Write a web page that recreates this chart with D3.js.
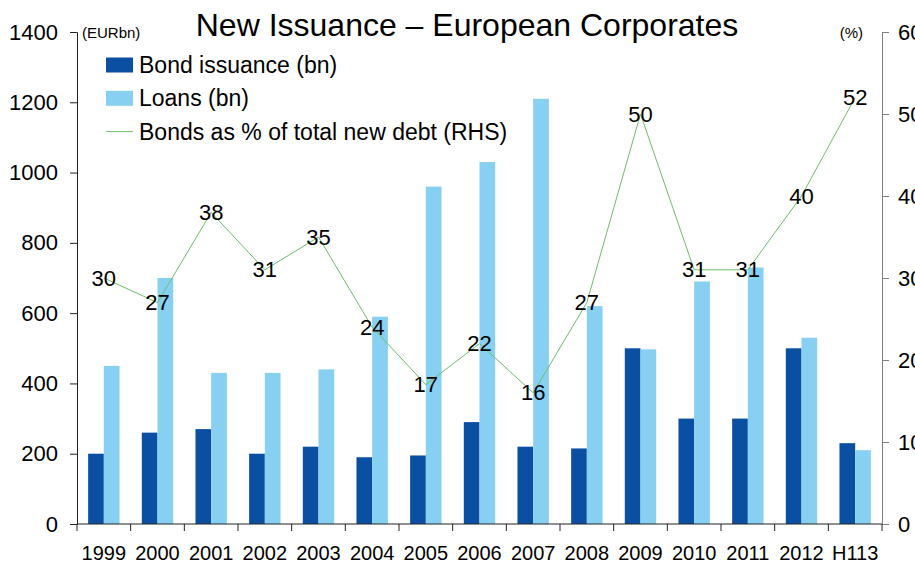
<!DOCTYPE html>
<html>
<head>
<meta charset="utf-8">
<script src="https://cdn.jsdelivr.net/npm/d3@7"></script>
<style>
  body { margin: 0; background: #fff; }
  svg { font-family: "Liberation Sans", Arial, sans-serif; }
</style>
</head>
<body>
<div id="plot"></div>
<script>
const width = 915
const height = 565
const margin = {top: 32, right: 33, bottom: 41, left: 77}

// data
const categories = ['1999', '2000', '2001', '2002', '2003', '2004', '2005', '2006', '2007', '2008', '2009', '2010', '2011', '2012', 'H113']
const bonds = [200, 260, 270, 200, 220, 190, 195, 290, 220, 215, 500, 300, 300, 500, 230]
const loans = [450, 700, 430, 430, 440, 590, 960, 1030, 1210, 620, 497, 690, 730, 530, 210]
const bondShare = [30, 27, 38, 31, 35, 24, 17, 22, 16, 27, 50, 31, 31, 40, 52]
const leftTicks = [0, 200, 400, 600, 800, 1000, 1200, 1400]
const rightTicks = [0, 10, 20, 30, 40, 50, 60]

const seriesNames = ['Bond issuance (bn)', 'Loans (bn)', 'Bonds as % of total new debt (RHS)']
const colors = {bond: '#0b4fa3', loan: '#88d0f2', line: '#6cbf6c'}

const svg = d3.select('div#plot').append('svg')
    .attr('width', width)
    .attr('height', height)
    .attr('viewBox', [0, 0, width, height])

const x = d3.scaleBand()
    .domain(categories)
    .range([margin.left, width - margin.right])
    .paddingInner(0.415)
    .paddingOuter(0.2075)

const xSub = d3.scaleBand()
    .domain(['bond', 'loan'])
    .range([0, x.bandwidth()])

const xEdge = d3.scaleLinear()
    .domain([0, categories.length])
    .range([margin.left, width - margin.right])

const y = d3.scaleLinear()
    .domain([0, 1400])
    .range([height - margin.bottom, margin.top])

const yR = d3.scaleLinear()
    .domain([0, 60])
    .range([height - margin.bottom, margin.top])

// bars
const groups = svg.append('g')
    .selectAll('g')
    .data(categories)
    .enter()
    .append('g')
    .attr('transform', c => 'translate(' + x(c) + ',0)')

groups.append('rect')
    .attr('x', xSub('bond'))
    .attr('width', xSub.bandwidth())
    .attr('y', (c, i) => y(bonds[i]))
    .attr('height', (c, i) => y(0) - y(bonds[i]))
    .attr('fill', colors.bond)

groups.append('rect')
    .attr('x', xSub('loan'))
    .attr('width', xSub.bandwidth())
    .attr('y', (c, i) => y(loans[i]))
    .attr('height', (c, i) => y(0) - y(loans[i]))
    .attr('fill', colors.loan)

// left axis
svg.append('g')
    .attr('transform', 'translate(' + margin.left + ',0)')
    .call(d3.axisLeft(y).tickValues(leftTicks).tickFormat(d3.format('d')).tickSize(7).tickPadding(12))
    .call(g => g.select('.domain').attr('stroke', '#222'))
    .call(g => g.selectAll('.tick line').attr('stroke', '#222'))
    .call(g => g.selectAll('.tick text').attr('font-size', 22).attr('fill', '#000'))
    .attr('font-family', null)

// right axis
svg.append('g')
    .attr('transform', 'translate(' + (width - margin.right) + ',0)')
    .call(d3.axisRight(yR).tickValues(rightTicks).tickSize(7).tickPadding(9))
    .call(g => g.select('.domain').attr('stroke', '#808080'))
    .call(g => g.selectAll('.tick line').attr('stroke', '#808080'))
    .call(g => g.selectAll('.tick text').attr('font-size', 22).attr('fill', '#000'))
    .attr('font-family', null)

// x axis
const xAxis = svg.append('g')
    .attr('transform', 'translate(0,' + (height - margin.bottom) + ')')
xAxis.call(d3.axisBottom(x).tickSize(0).tickPadding(22))
    .call(g => g.select('.domain').remove())
    .call(g => g.selectAll('.tick text').attr('font-size', 20).attr('fill', '#000'))
    .attr('font-family', null)
xAxis.append('line')
    .attr('x1', xEdge(0)).attr('x2', xEdge(categories.length))
    .attr('stroke', '#222')
xAxis.selectAll('line.edge')
    .data(d3.range(categories.length + 1))
    .enter()
    .append('line')
    .attr('class', 'edge')
    .attr('x1', i => xEdge(i)).attr('x2', i => xEdge(i))
    .attr('y1', 0).attr('y2', 7)
    .attr('stroke', '#222')

// share line
const cx = c => x(c) + x.bandwidth() / 2
const line = d3.line()
    .x((v, i) => cx(categories[i]))
    .y(v => yR(v))

svg.append('path')
    .datum(bondShare)
    .attr('d', line)
    .attr('fill', 'none')
    .attr('stroke', colors.line)
    .attr('stroke-width', 1)

svg.append('g')
    .selectAll('text')
    .data(bondShare)
    .enter()
    .append('text')
    .attr('x', (v, i) => cx(categories[i]))
    .attr('y', v => yR(v))
    .attr('text-anchor', 'middle')
    .attr('dominant-baseline', 'central')
    .attr('font-size', 22)
    .text(v => v)

// unit labels
svg.append('text')
    .attr('x', margin.left + 5)
    .attr('y', margin.top)
    .attr('dominant-baseline', 'central')
    .attr('font-size', 15)
    .text('(EURbn)')

svg.append('text')
    .attr('x', width - margin.right - 19)
    .attr('y', margin.top)
    .attr('text-anchor', 'end')
    .attr('dominant-baseline', 'central')
    .attr('font-size', 15)
    .text('(%)')

// title
svg.append('text')
    .attr('x', 467)
    .attr('y', 25)
    .attr('text-anchor', 'middle')
    .attr('dominant-baseline', 'central')
    .attr('font-size', 32)
    .text('New Issuance \u2013 European Corporates')

// legend
const legend = svg.append('g')
    .attr('transform', 'translate(106,65)')
const rowH = 33.3
const swatch = [colors.bond, colors.loan, colors.line]
seriesNames.forEach((name, i) => {
    const row = legend.append('g').attr('transform', 'translate(0,' + (i * rowH) + ')')
    if (i < 2) {
        row.append('rect')
            .attr('x', 0).attr('y', -7.5)
            .attr('width', 27).attr('height', 15)
            .attr('fill', swatch[i])
    } else {
        row.append('line')
            .attr('x1', 0).attr('x2', 27)
            .attr('stroke', swatch[i])
            .attr('stroke-width', 1)
    }
    row.append('text')
        .attr('x', 33)
        .attr('dominant-baseline', 'central')
        .attr('font-size', 23)
        .text(name)
})
</script>
</body>
</html>
